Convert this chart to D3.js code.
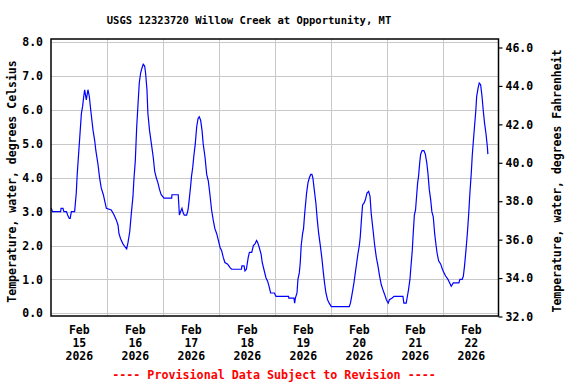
<!DOCTYPE html>
<html>
<head>
<meta charset="utf-8">
<script src="https://cdn.jsdelivr.net/npm/d3@7"></script>
<style>
  body { margin: 0; background: #fff; }
  svg text { font-family: "DejaVu Sans Mono", "Liberation Mono", monospace; font-weight: bold; }
</style>
</head>
<body>
<div id="chart"></div>
<script>
// hours since Feb 15 2026 00:00, water temperature in deg C
let hours = [
  0, 0.5, 4, 4.2, 5, 5.4, 6.5, 7, 7.7, 8.1, 8.6, 10, 10.7, 11.1, 11.7, 12.4, 12.9, 13.4, 13.9, 14.3,
  15, 15.7, 16.3, 16.9, 17.4, 17.9, 18.6, 19.1, 20, 20.7, 21.4, 22.3, 23.1, 23.6, 25.7,
  26.9, 27.9, 28.6, 29, 29.7, 30.7, 31.7, 32.3, 32.9, 33.6, 34.3, 35, 35.4, 36, 36.6, 37.1, 37.7,
  38.3, 38.9, 39.4, 40, 40.4, 41, 41.4, 42.1, 42.9, 43.7, 44.3, 45, 45.7, 46.4, 47.1, 48.3,
  51.6, 51.7, 54.4, 54.9, 55.4, 56, 56.6, 57, 58, 58.6, 59.1, 59.7, 60.1, 60.6, 61.1, 61.7,
  62.3, 62.9, 63.4, 64, 64.6, 65.1, 65.9, 66.6, 67.3, 68, 68.7, 69.4, 70.1, 70.9, 71.6, 72.3,
  73, 73.7, 74.4, 75.6, 76.6, 77.3, 81.5, 81.7, 82.6, 83, 83.6, 84.4, 84.9, 85.9, 86.6, 87.3,
  88, 88.4, 89.1, 89.9, 90.4, 91.1, 92, 92.7, 93.3, 94, 95.6, 96.3, 101.7, 101.8, 104, 104.3,
  104.6, 105.3, 105.7, 106.3, 106.7, 107.1, 107.7, 108.1, 108.6, 109, 109.4, 110, 110.6, 111.2,
  111.7, 112.1, 112.7, 113.4, 114, 114.6, 115.3, 116, 116.6, 117.1, 117.7, 118.4, 119.1, 120,
  127.7, 128.2, 128.6, 129.1, 129.7, 130.3, 130.9, 131.4, 132, 132.4, 132.9, 133.4, 134, 134.6,
  135.3, 136, 136.6, 137.1, 137.9, 138.6, 139.3, 140, 140.7, 141.4, 142.1, 142.9, 143.6, 144,
  144.4, 144.9, 146.1, 146.9, 150.7, 151.1, 152.1, 152.6, 153.1, 153.7, 154.1, 154.7, 155.1,
  155.6, 156.1, 156.6, 157, 157.4, 157.9, 158.3, 158.9, 159.7, 160.3, 160.9, 161.4, 162, 162.6,
  163.1, 163.7, 164.3, 164.9, 165.4, 166, 166.9, 167.6, 168.3, 169, 170, 170.7, 171.4, 172.3,
  174.7, 175.1, 176.1, 176.6, 177.1, 177.7, 178.3, 178.9, 179.4, 180, 180.4, 180.9, 181.3,
  181.9, 182.3, 182.9, 183.4, 184, 184.6, 185.1, 185.7, 186.3, 186.9, 187.1
];
let tempC = [
  3.1, 3.0, 3.0, 3.1, 3.1, 3.0, 3.0, 2.9, 2.8, 2.8, 3.0, 3.0, 3.55, 4.1, 4.7, 5.4, 5.9, 6.1, 6.4, 6.6,
  6.3, 6.6, 6.4, 6.0, 5.7, 5.4, 5.1, 4.8, 4.4, 4.0, 3.7, 3.5, 3.25, 3.1, 3.05,
  2.9, 2.75, 2.6, 2.35, 2.2, 2.05, 1.95, 1.9, 2.1, 2.4, 2.95, 3.45, 3.95, 4.5, 5.5, 6.1, 6.8,
  7.1, 7.25, 7.35, 7.3, 7.1, 6.6, 5.9, 5.4, 5.0, 4.6, 4.2, 4.0, 3.85, 3.65, 3.5, 3.4,
  3.4, 3.5, 3.5, 2.9, 3.0, 3.1, 2.95, 2.9, 2.9, 3.05, 3.35, 3.75, 4.05, 4.3, 4.65, 5.0,
  5.5, 5.75, 5.8, 5.7, 5.4, 5.0, 4.6, 4.1, 3.9, 3.5, 3.05, 2.75, 2.5, 2.35, 2.15, 1.95,
  1.85, 1.65, 1.5, 1.45, 1.35, 1.3, 1.3, 1.4, 1.4, 1.25, 1.3, 1.65, 1.8, 1.8, 2.0, 2.05,
  2.15, 2.1, 1.95, 1.75, 1.5, 1.3, 1.05, 0.95, 0.8, 0.6, 0.6, 0.5, 0.5, 0.45, 0.45, 0.3,
  0.45, 0.6, 1.0, 1.2, 1.5, 2.0, 2.35, 2.5, 2.95, 3.25, 3.55, 3.85, 4.0, 4.1,
  4.1, 4.0, 3.65, 3.25, 2.75, 2.35, 2.0, 1.6, 1.2, 0.9, 0.6, 0.4, 0.3, 0.2,
  0.2, 0.3, 0.45, 0.65, 0.9, 1.2, 1.5, 1.75, 2.0, 2.25, 2.75, 3.2, 3.25, 3.35,
  3.55, 3.6, 3.45, 2.95, 2.45, 2.0, 1.65, 1.4, 1.1, 0.85, 0.7, 0.55, 0.4, 0.35,
  0.3, 0.4, 0.45, 0.5, 0.5, 0.3, 0.3, 0.5, 0.7, 1.0, 1.35, 1.85, 2.35,
  2.9, 3.05, 3.5, 3.85, 4.05, 4.45, 4.7, 4.8, 4.8, 4.7, 4.45, 4.15, 3.65, 3.35,
  3.0, 2.85, 2.35, 2.0, 1.75, 1.55, 1.45, 1.3, 1.2, 1.1, 1.0, 0.9, 0.8, 0.9,
  0.9, 1.0, 1.0, 1.1, 1.4, 1.85, 2.35, 2.95, 3.55, 4.15, 4.65, 5.1, 5.45,
  5.95, 6.4, 6.65, 6.8, 6.75, 6.4, 6.0, 5.6, 5.3, 4.9, 4.7
];

let dayLabels = ['15', '16', '17', '18', '19', '20', '21', '22'];
let monthLabel = 'Feb';
let yearLabel = '2026';
let celsiusTicks = [0, 1, 2, 3, 4, 5, 6, 7, 8];
let fahrenheitTicks = [32, 34, 36, 38, 40, 42, 44, 46];

let width = 576, height = 384;
let box = {left: 51, right: 498.5, top: 39, bottom: 316};

let svg = d3.select('#chart').append('svg').attr('width', width).attr('height', height);

let t0 = Date.UTC(2026, 1, 15);
let toDate = h => new Date(t0 + h * 3600e3);

let x = d3.scaleUtc().domain([toDate(0), toDate(192)]).range([51.3, 499.3]);
let y = d3.scaleLinear().domain([0, 8]).range([313.3, 42.3]);
let yF = d3.scaleLinear().domain([32, 46]).range([316.5, 47.5]);

// gridlines
svg.append('g').selectAll('line')
  .data(celsiusTicks)
  .join('line')
  .attr('x1', box.left).attr('x2', box.right)
  .attr('y1', d => Math.round(y(d)) + 0.5).attr('y2', d => Math.round(y(d)) + 0.5)
  .attr('stroke', '#c8c8c8').attr('stroke-width', 1);

svg.append('g').selectAll('line')
  .data(d3.range(1, 8))
  .join('line')
  .attr('x1', d => Math.round(x(toDate(d * 24))) + 0.5).attr('x2', d => Math.round(x(toDate(d * 24))) + 0.5)
  .attr('y1', box.top).attr('y2', box.bottom)
  .attr('stroke', '#c8c8c8').attr('stroke-width', 1);

// data line
let line = d3.line()
  .x((d, i) => x(toDate(hours[i])))
  .y(d => y(d));

svg.append('path')
  .datum(tempC)
  .attr('d', line)
  .attr('fill', 'none')
  .attr('stroke', '#0000ff')
  .attr('stroke-width', 1.2);

// frame
svg.append('rect')
  .attr('x', box.left).attr('y', box.top)
  .attr('width', box.right - box.left).attr('height', box.bottom - box.top)
  .attr('fill', 'none').attr('stroke', '#000').attr('stroke-width', 1.5);

// left axis
let leftAxis = svg.append('g')
  .attr('transform', `translate(${box.left},0)`)
  .call(d3.axisLeft(y).tickValues(celsiusTicks).tickFormat(d3.format('.1f')).tickSize(0).tickPadding(8));
leftAxis.select('.domain').remove();

// right axis
let rightAxis = svg.append('g')
  .attr('transform', `translate(${box.right},0)`)
  .call(d3.axisRight(yF).tickValues(fahrenheitTicks).tickFormat(d3.format('.1f')).tickSize(4).tickPadding(3));
rightAxis.select('.domain').remove();
rightAxis.selectAll('line').attr('stroke', '#000').attr('stroke-width', 1.2);

svg.selectAll('.tick text')
  .attr('font-size', '11.5px')
  .attr('font-family', '"DejaVu Sans Mono", monospace')
  .attr('font-weight', 'bold')
  .attr('fill', '#000');

// x labels at noon of each day
let xl = svg.append('g').selectAll('text')
  .data(dayLabels)
  .join('text')
  .attr('text-anchor', 'middle')
  .attr('font-size', '11.5px')
  .attr('transform', (d, i) => `translate(${x(toDate(i * 24 + 12))},0)`);
xl.append('tspan').attr('x', 0).attr('y', 334).text(monthLabel);
xl.append('tspan').attr('x', 0).attr('y', 347).text(d => d);
xl.append('tspan').attr('x', 0).attr('y', 360).text(yearLabel);

// title
svg.append('text')
  .attr('x', 249).attr('y', 24)
  .attr('text-anchor', 'middle')
  .attr('font-size', '10.5px')
  .text('USGS 12323720 Willow Creek at Opportunity, MT');

// axis titles
svg.append('text')
  .attr('transform', 'translate(16,181.5) rotate(-90)')
  .attr('text-anchor', 'middle')
  .attr('font-size', '11.5px')
  .text('Temperature, water, degrees Celsius');

svg.append('text')
  .attr('transform', 'translate(561,181) rotate(-90)')
  .attr('text-anchor', 'middle')
  .attr('font-size', '11.5px')
  .text('Temperature, water, degrees Fahrenheit');

// provisional note
svg.append('text')
  .attr('x', 274).attr('y', 379)
  .attr('text-anchor', 'middle')
  .attr('font-size', '11.7px')
  .attr('fill', '#ff0000')
  .text('---- Provisional Data Subject to Revision ----');
</script>
</body>
</html>
